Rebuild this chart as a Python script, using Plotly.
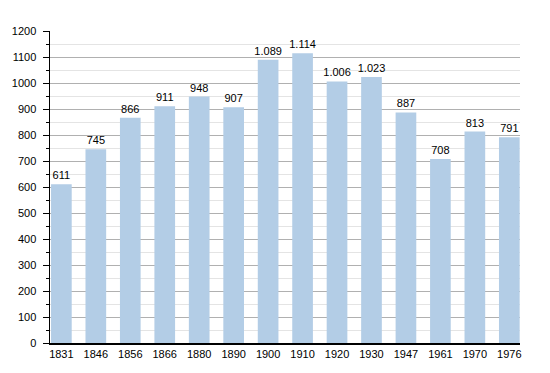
import plotly.graph_objects as go

years = ["1831", "1846", "1856", "1866", "1880", "1890", "1900", "1910", "1920", "1930", "1947", "1961", "1970", "1976"]
population = [611, 745, 866, 911, 948, 907, 1089, 1114, 1006, 1023, 887, 708, 813, 791]

fig = go.Figure(go.Bar(
    x=years, y=population,
    marker=dict(color="#b3cde6", line=dict(width=0)),
    width=0.6,
    texttemplate="%{y:,d}", textposition="outside",
    textfont=dict(size=11, color="black"),
    constraintext="none",
    cliponaxis=False,
    hoverinfo="skip",
))

fig.update_layout(
    width=550, height=373,
    margin=dict(l=50, r=30, t=31, b=30, autoexpand=False),
    paper_bgcolor="white", plot_bgcolor="white",
    separators=",.",
    font=dict(family="Liberation Sans, Arial, sans-serif", size=11, color="black"),
    showlegend=False,
)
fig.update_xaxes(
    type="category", range=[-0.33, 13.31],
    showline=True, linecolor="black", linewidth=1.5,
    ticks="", showgrid=False, tickfont=dict(size=11), automargin=False,
)
fig.update_yaxes(
    range=[0, 1200], dtick=100, tick0=0,
    showline=True, linecolor="black", linewidth=1.5,
    ticks="outside", ticklen=6, tickcolor="black",
    gridcolor="#b0b0b0", gridwidth=1,
    minor=dict(dtick=50, showgrid=True, gridcolor="#e4e4e4", ticks="outside", ticklen=3, tickcolor="black"),
    zeroline=False, tickfont=dict(size=11), automargin=False,
    ticklabelstandoff=4,
)

fig.write_html("out.html", config={"displayModeBar": False, "staticPlot": True},
               post_script="document.body.style.margin='0';document.body.style.overflow='hidden';")
